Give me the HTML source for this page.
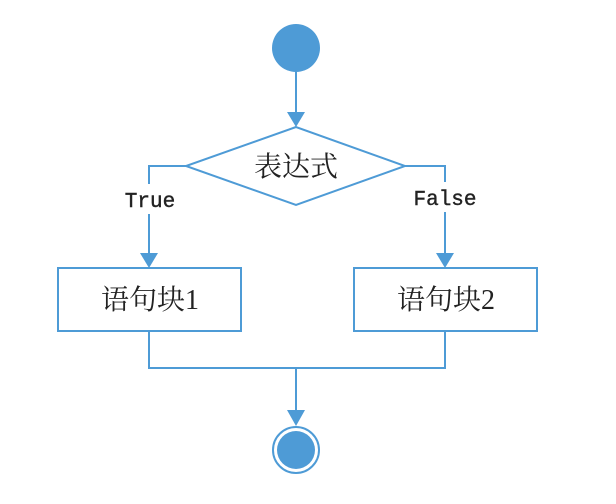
<!DOCTYPE html>
<html><head><meta charset="utf-8"><style>body{margin:0;background:#fff}</style></head><body>
<svg width="616" height="499" xmlns="http://www.w3.org/2000/svg">
<g stroke="#4e9bd6" stroke-width="2" fill="none">
<line x1="296" y1="70" x2="296" y2="112"/>
<polygon points="296,127 186,166 296,205 405,166" fill="#fff"/>
<polyline points="186,166 149,166 149,184"/>
<line x1="149" y1="214" x2="149" y2="253"/>
<polyline points="405,166 445,166 445,182"/>
<line x1="445" y1="212" x2="445" y2="253"/>
<rect x="58" y="268" width="183" height="63" fill="#fff"/>
<rect x="354" y="268" width="183" height="63" fill="#fff"/>
<polyline points="149,331 149,368 445,368 445,331"/>
<line x1="296" y1="368" x2="296" y2="410"/>
<circle cx="296" cy="450" r="23"/>
</g>
<g fill="#4e9bd6">
<circle cx="296" cy="48" r="24"/>
<polygon points="287,112 305,112 296,127"/>
<polygon points="140,253 158,253 149,268"/>
<polygon points="436,253 454,253 445,268"/>
<polygon points="287,410 305,410 296,426"/>
<circle cx="296" cy="450" r="19"/>
</g>
<g font-family="'Liberation Serif','Noto Serif CJK SC',serif" font-size="28" fill="#222" text-anchor="middle">
<text x="296" y="176">表达式</text>
<text x="150" y="309">语句块1</text>
<text x="446" y="309">语句块2</text>
</g>
<g font-family="'Liberation Mono',monospace" font-size="21" fill="#222" text-anchor="middle" stroke="#222" stroke-width="0.4">
<text x="150" y="207">True</text>
<text x="445" y="205">False</text>
</g>
</svg>
</body></html>
